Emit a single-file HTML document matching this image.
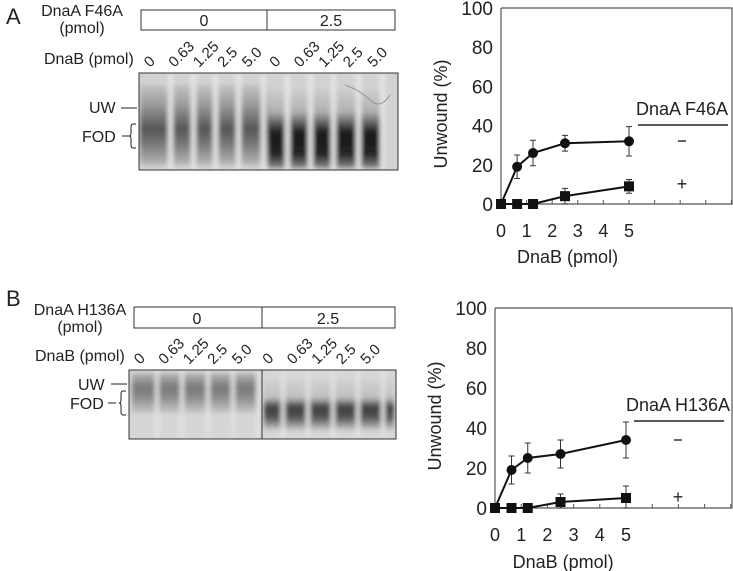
<!DOCTYPE html>
<html><head><meta charset="utf-8">
<style>
body{margin:0;background:#fff;}
svg{display:block;font-family:"Liberation Sans",sans-serif;}
text{fill:#222;}
</style></head>
<body>
<svg id="fig" width="733" height="571" viewBox="0 0 733 571">
<defs>
<filter id="blur" x="-20%" y="-20%" width="140%" height="140%"><feGaussianBlur stdDeviation="2.5"/></filter>
<linearGradient id="laneL" x1="0" y1="0" x2="0" y2="1">
<stop offset="0" stop-color="#c4c4c4"/><stop offset="0.25" stop-color="#9a9a9a"/><stop offset="0.55" stop-color="#555"/><stop offset="0.75" stop-color="#7a7a7a"/><stop offset="1" stop-color="#b8b8b8"/></linearGradient>
<linearGradient id="laneR" x1="0" y1="0" x2="0" y2="1">
<stop offset="0" stop-color="#cfcfcf"/><stop offset="0.3" stop-color="#b0b0b0"/><stop offset="0.55" stop-color="#1e1e1e"/><stop offset="0.82" stop-color="#202020"/><stop offset="1" stop-color="#8a8a8a"/></linearGradient>
<linearGradient id="laneBL" x1="0" y1="0" x2="0" y2="1">
<stop offset="0" stop-color="#b8b8b8"/><stop offset="0.35" stop-color="#787878"/><stop offset="0.6" stop-color="#8a8a8a"/><stop offset="1" stop-color="#c8c8c8"/></linearGradient>
<linearGradient id="laneBR" x1="0" y1="0" x2="0" y2="1">
<stop offset="0" stop-color="#d0d0d0"/><stop offset="0.35" stop-color="#c0c0c0"/><stop offset="0.55" stop-color="#3a3a3a"/><stop offset="0.75" stop-color="#555"/><stop offset="1" stop-color="#c8c8c8"/></linearGradient>
</defs>

<g>
<text x="6" y="24" font-size="22">A</text>
<text x="82" y="16" font-size="16" text-anchor="middle">DnaA F46A</text>
<text x="82" y="33" font-size="16" text-anchor="middle">(pmol)</text>
<rect x="141" y="10" width="254" height="20" fill="none" stroke="#333"/>
<line x1="267" y1="10" x2="267" y2="30" stroke="#333"/>
<text x="204" y="26" font-size="16" text-anchor="middle">0</text>
<text x="331" y="26" font-size="16" text-anchor="middle">2.5</text>
<text x="44" y="64" font-size="16">DnaB (pmol)</text>
<g id="lanesA" font-size="15"></g>
<g clip-path="url(#clipA)">
<clipPath id="clipA"><rect x="139" y="73" width="259" height="97"/></clipPath>
<rect x="139" y="73" width="259" height="97" fill="#d2d2d2"/>
<g filter="url(#blur)">
<rect x="140" y="85" width="128" height="80" fill="url(#laneL)"/>
<rect x="268" y="88" width="116" height="80" fill="url(#laneR)"/>
<g fill="#e6e6e6" id="gapsA"></g>
</g>
<path d="M345 85 Q360 90 370 100 Q380 110 390 95" stroke="#888" fill="none" stroke-width="0.8"/>
</g>
<rect x="139" y="73" width="259" height="97" fill="none" stroke="#333"/>
<text x="89" y="113" font-size="16">UW</text>
<line x1="121" y1="108" x2="137" y2="108" stroke="#222"/>
<text x="82" y="142" font-size="16">FOD</text>
<line x1="122" y1="136" x2="129" y2="136" stroke="#222"/>
<path d="M136 124 h-3 q-2 0 -2 3 v6 q0 3 -2 3 q2 0 2 3 v6 q0 3 2 3 h3" stroke="#222" fill="none"/>
</g>

<g>
<text x="6" y="306" font-size="22">B</text>
<text x="80" y="315" font-size="16" text-anchor="middle">DnaA H136A</text>
<text x="80" y="332" font-size="16" text-anchor="middle">(pmol)</text>
<rect x="134" y="307" width="261" height="21" fill="none" stroke="#333"/>
<line x1="262" y1="307" x2="262" y2="328" stroke="#333"/>
<text x="197" y="324" font-size="16" text-anchor="middle">0</text>
<text x="328" y="324" font-size="16" text-anchor="middle">2.5</text>
<text x="35" y="361" font-size="16">DnaB (pmol)</text>
<g id="lanesB" font-size="15"></g>
<g clip-path="url(#clipB)">
<clipPath id="clipB"><rect x="129" y="370" width="267" height="69"/></clipPath>
<rect x="129" y="370" width="267" height="69" fill="#d6d6d6"/>
<g filter="url(#blur)">
<rect x="132" y="373" width="128" height="40" fill="url(#laneBL)"/>
<rect x="264" y="380" width="130" height="50" fill="url(#laneBR)"/>
<g fill="#e2e2e2" id="gapsB"></g>
</g>
</g>
<rect x="129" y="370" width="267" height="69" fill="none" stroke="#333"/>
<line x1="262" y1="370" x2="262" y2="439" stroke="#333"/>
<text x="78" y="390" font-size="16">UW</text>
<line x1="111" y1="384" x2="127" y2="384" stroke="#222"/>
<text x="70" y="409" font-size="16">FOD</text>
<line x1="108" y1="403" x2="116" y2="403" stroke="#222"/>
<path d="M126 391 h-3 q-2 0 -2 3 v6 q0 3 -2 3 q2 0 2 3 v6 q0 3 2 3 h3" stroke="#222" fill="none"/>
</g>

<g id="chartA"></g>
<g id="chartB"></g>
</svg>
<script>
const NS="http://www.w3.org/2000/svg";
const laneLabels=["0","0.63","1.25","2.5","5.0","0","0.63","1.25","2.5","5.0"];
const doses=[0,0.63,1.25,2.5,5];
const xTicks=[0,1,2,3,4,5];
const yTicks=[0,20,40,60,80,100];
const aMinus=[0,19,26,31,32];
const aMinusErr=[0,6,6.5,4,7.5];
const aPlus=[0,0,0,4,9];
const aPlusErr=[0,0,0,4,3.5];
const bMinus=[0,19,25,27,34];
const bMinusErr=[0,7,7.5,7,9];
const bPlus=[0,0,0,3,5];
const bPlusErr=[0,0,0,4,6];

function mk(tag,attrs,parent){const e=document.createElementNS(NS,tag);for(const k in attrs)e.setAttribute(k,attrs[k]);parent.appendChild(e);return e;}

function laneLabelsDraw(id,x0,dx,y,split){
  const g=document.getElementById(id);
  laneLabels.forEach((l,i)=>{
    const x=x0+i*dx+(i>=5?split:0);
    const t=mk("text",{x:x,y:y,transform:`rotate(-45 ${x} ${y})`},g);
    t.textContent=l;
    
    
  });
}
laneLabelsDraw("lanesA",150,24.5,68,3);
laneLabelsDraw("lanesB",140,24.5,365,6);
[170,193,215,238,263,287,310,333,358,382].forEach(x=>mk("rect",{x:x-2,y:73,width:5,height:97},document.getElementById("gapsA")));
[157,182,208,233,258,283,308,333,358,383].forEach(x=>mk("rect",{x:x-2,y:370,width:4,height:69},document.getElementById("gapsB")));

function chart(id,o,minus,minusErr,plus,plusErr,legend){
  const g=document.getElementById(id);
  const X=v=>o.x0+v*o.ux, Y=v=>o.y0-v*o.uy;
  const right=732, top=Y(100);
  mk("polyline",{points:`${o.x0},${top} ${right},${top} ${right},${o.y0} ${o.x0},${o.y0} ${o.x0},${top}`,fill:"none",stroke:"#555","stroke-width":1.2},g);
  for(let i=0;i*o.ux+o.x0<=right;i++){mk("line",{x1:X(i),y1:o.y0,x2:X(i),y2:o.y0-4,stroke:"#555"},g);}
  yTicks.forEach(v=>{const t=mk("text",{x:o.x0-8,y:Y(v)+7,"text-anchor":"end","font-size":19},g);t.textContent=v;
    });
  xTicks.forEach(v=>{const t=mk("text",{x:X(v),y:o.lab,"text-anchor":"middle","font-size":18},g);t.textContent=v;
    });
  const xt=mk("text",{x:X(2.6),y:o.title,"text-anchor":"middle","font-size":18},g);xt.textContent="DnaB (pmol)";
  
  const ym=(top+o.y0)/2+8;
  const yt=mk("text",{x:o.x0-54,y:ym,"text-anchor":"middle","font-size":18,transform:`rotate(-90 ${o.x0-54} ${ym})`},g);yt.textContent="Unwound (%)";
  
  function series(vals,errs,shape,name){
    mk("polyline",{points:vals.map((v,i)=>`${X(doses[i])},${Y(v)}`).join(" "),fill:"none",stroke:"#111","stroke-width":2},g);
    vals.forEach((v,i)=>{
      if(errs[i]>0){const e=errs[i];
        mk("path",{d:`M${X(doses[i])} ${Y(v+e)}V${Y(Math.max(0,v-e))}M${X(doses[i])-3} ${Y(v+e)}h6M${X(doses[i])-3} ${Y(Math.max(0,v-e))}h6`,stroke:"#333",fill:"none"},g);}
      let m;
      if(shape==="c") m=mk("circle",{cx:X(doses[i]),cy:Y(v),r:5,fill:"#111"},g);
      else m=mk("rect",{x:X(doses[i])-5,y:Y(v)-5,width:10,height:10,fill:"#111"},g);
      
      
    });
  }
  series(minus,minusErr,"c","minus-series");
  series(plus,plusErr,"s","plus-series");
  const lt=mk("text",{x:o.legX,y:o.legY,"text-anchor":"middle","font-size":18},g);lt.textContent=legend;
  
  mk("line",{x1:o.legX-44,y1:o.legY+10,x2:o.legX+46,y2:o.legY+10,stroke:"#222","stroke-width":1.5},g);
  mk("line",{x1:o.legX-4,y1:o.mY,x2:o.legX+4,y2:o.mY,stroke:"#333","stroke-width":1.5},g);
  const p1=mk("text",{x:o.legX,y:o.pY,"text-anchor":"middle","font-size":18},g);p1.textContent="+";
  
}
chart("chartA",{x0:501,ux:25.6,y0:204,uy:1.96,lab:237,title:263,legX:682,legY:115,mY:141,pY:190},aMinus,aMinusErr,aPlus,aPlusErr,"DnaA F46A");
chart("chartB",{x0:495,ux:26.2,y0:508,uy:2.0,lab:541,title:568,legX:678,legY:411,mY:440,pY:503},bMinus,bMinusErr,bPlus,bPlusErr,"DnaA H136A");
</script>
</body></html>
